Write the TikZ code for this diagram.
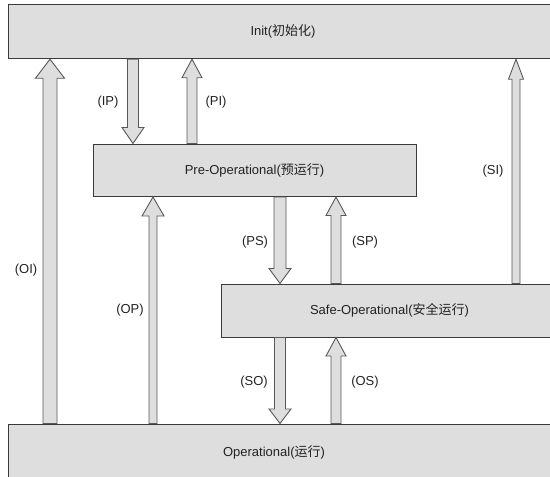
\documentclass[tikz,border=0pt]{standalone}
\usepackage{fontspec}
\setmainfont{Liberation Sans}
\newfontfamily\cjk{Noto Sans CJK SC}
\usetikzlibrary{calc, positioning}
\definecolor{C_FILL}{HTML}{DEDEDE}
\definecolor{C_EDGE}{HTML}{3A3A3A}
\definecolor{C_TEXT}{HTML}{222222}
\tikzset{
  %% -- state boxes --
  ESM/state/.style={
    draw=C_EDGE, fill=C_FILL, line width=1pt, rectangle,
    inner sep=0pt, text=C_TEXT, font=\fontsize{13}{15}\selectfont
  },
  %% -- hollow block arrows --
  ESM/blk/.style={draw=C_EDGE!85, fill=C_FILL, line width=0.9pt, line join=miter},
  %% -- transition labels --
  ESM/lbl/.style={text=C_TEXT, font=\fontsize{13}{15}\selectfont, inner sep=1pt},
}
% block arrow: from, to, shaft half width, head half width, head length
\newcommand{\blockarrow}[5]{%
  \draw[ESM/blk] let \p1=(#1), \p2=(#2), \n1={ifthenelse(\y2>\y1,1,-1)} in
    (\x1-#3,\y1) -- (\x1-#3,\y2-\n1*#5) -- (\x1-#4,\y2-\n1*#5) -- (\x2,\y2)
    -- (\x1+#4,\y2-\n1*#5) -- (\x1+#3,\y2-\n1*#5) -- (\x1+#3,\y1) -- cycle;}

\begin{document}
\begin{tikzpicture}[x=1pt, y=-1pt]
\useasboundingbox (0,0) rectangle (550,477);

%% ── States ───────────────────────────────────────────────────
\node[ESM/state, minimum width=550pt, minimum height=54.7pt] (init) at (283,31.35)
  {Init({\cjk 初始化})};
\node[ESM/state, minimum width=323pt, minimum height=52.5pt] (preop) at (254.5,170.25)
  {Pre-Operational({\cjk 预运行})};
\node[ESM/state, minimum width=337pt, minimum height=53pt] (safeop) at (389.5,310.5)
  {Safe-Operational({\cjk 安全运行})};
\node[ESM/state, minimum width=550pt, minimum height=56pt,
  label={[ESM/lbl, xshift=-9pt]center:Operational({\cjk 运行})}] (op) at (283,452) {};

%% ── Arrow columns ────────────────────────────────────────────
\coordinate (xOI) at (50,0);
\coordinate (xIP) at (133,0);
\coordinate (xPI) at (192,0);
\coordinate (xOP) at (153,0);
\coordinate (xPS) at (280,0);
\coordinate (xSP) at (336,0);
\coordinate (xSI) at (516,0);

%% ── Transitions ──────────────────────────────────────────────
\blockarrow{op.north -| xOI}{init.south -| xOI}{7pt}{14.5pt}{19pt}
\blockarrow{init.south -| xIP}{preop.north -| xIP}{5.5pt}{11pt}{16pt}
\blockarrow{preop.north -| xPI}{init.south -| xPI}{5pt}{10pt}{18.5pt}
\blockarrow{op.north -| xOP}{preop.south -| xOP}{4pt}{11pt}{19pt}
\blockarrow{preop.south -| xPS}{safeop.north -| xPS}{6pt}{11pt}{15pt}
\blockarrow{safeop.north -| xSP}{preop.south -| xSP}{5pt}{10pt}{18.5pt}
\blockarrow{safeop.north -| xSI}{init.south -| xSI}{4pt}{7.5pt}{20pt}
\blockarrow{safeop.south -| xPS}{op.north -| xPS}{5.5pt}{11pt}{14.5pt}
\blockarrow{op.north -| xSP}{safeop.south -| xSP}{5pt}{10pt}{18.5pt}

%% ── Labels ───────────────────────────────────────────────────
\node[ESM/lbl] (lIP) at (108,101.7) {(IP)};
\node[ESM/lbl] (lPI) at (216,101.7) {(PI)};
\node[ESM/lbl] (lOI) at (26,270) {(OI)};
\node[ESM/lbl] (lOP) at (130,310) {(OP)};
\node[ESM/lbl] (lPS) at (255,242) {(PS)};
\node[ESM/lbl] (lSP) at (365,242) {(SP)};
\node[ESM/lbl] (lSI) at (493,171) {(SI)};
\node[ESM/lbl] (lSO) at (254,382) {(SO)};
\node[ESM/lbl] (lOS) at (365,382) {(OS)};

\end{tikzpicture}
\end{document}
